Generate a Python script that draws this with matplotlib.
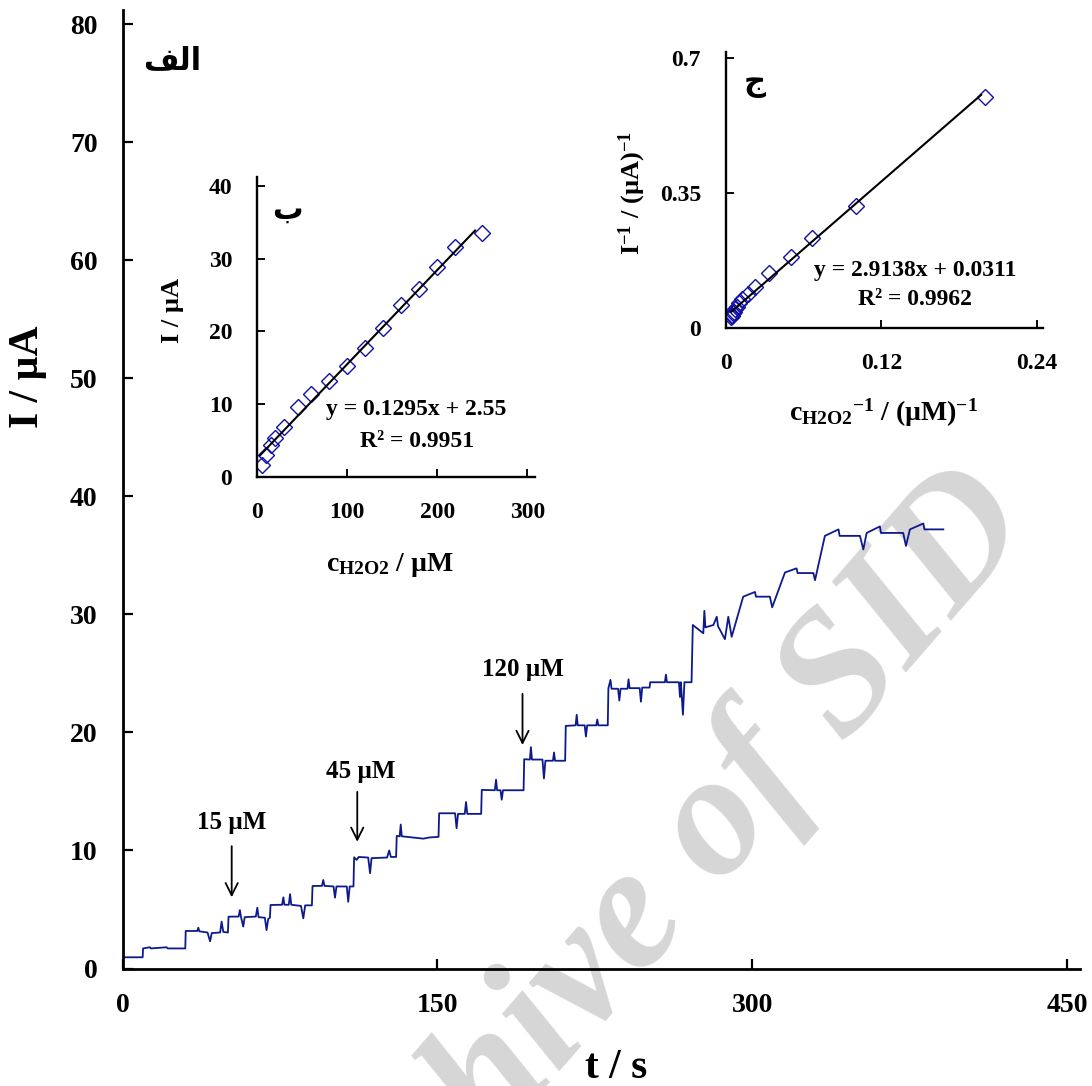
import numpy as np
import matplotlib.pyplot as plt

plt.rcParams['font.family'] = ['Liberation Serif', 'DejaVu Sans']
plt.rcParams['font.weight'] = 'bold'
plt.rcParams['mathtext.fontset'] = 'custom'
plt.rcParams['mathtext.rm'] = 'Liberation Serif:bold'
plt.rcParams['mathtext.bf'] = 'Liberation Serif:bold'
plt.rcParams['mathtext.it'] = 'Liberation Serif:bold'

# amperometric trace (main panel)
time_s = [0, 0.3, 1.0, 9.6, 9.8, 13.0, 13.5, 21.0, 21.5, 29.9, 30.1, 35.6, 36.1, 36.6,
          40.5, 41.7, 42.5, 46.5, 47.2, 48.0, 50.2, 50.5, 55.3, 55.9, 56.4, 57.5, 58.2,
          63.5, 64.2, 64.8, 67.8, 68.6, 69.4, 70.2, 70.5, 76.0, 76.6, 77.1, 79.2, 79.8,
          80.4, 85.0, 86.1, 87.0, 90.2, 90.5, 95.0, 95.6, 96.2, 100.5, 101.2, 101.9,
          106.8, 107.5, 108.2, 110.0, 110.3, 111.5, 112.5, 117.0, 117.9, 118.6, 126.0,
          127.0, 127.8, 130.3, 130.6, 132.0, 132.5, 133.0, 143.3, 146.0, 150.5, 150.8,
          158.4, 159.1, 159.8, 163.0, 163.6, 164.2, 170.8, 171.1, 177.3, 177.9, 178.4,
          180.0, 180.6, 181.2, 191.0, 191.3, 194.0, 194.5, 195.0, 200.0, 200.7, 201.4,
          205.0, 205.5, 206.0, 210.8, 211.1, 215.8, 216.3, 216.8, 220.1, 220.7, 221.3,
          225.6, 226.1, 226.6, 231.1, 231.4, 232.4, 232.9, 236.0, 236.6, 237.2, 240.5,
          241.0, 241.5, 246.3, 246.9, 247.5, 251.0, 251.3, 258.3, 258.8, 259.3, 265.0,
          265.5, 265.9, 266.9, 267.6, 271.0, 271.6, 276.6, 277.1, 277.6, 281.4, 283.0,
          283.6, 286.9, 288.5, 290.1, 295.6, 301.2, 301.7, 308.3, 309.4, 315.5, 321.0,
          321.5, 329.0, 329.8, 334.5, 341.0, 341.5, 351.2, 352.8, 354.4, 360.7, 361.2,
          371.8, 373.1, 375.0, 381.4, 381.9, 390.9]
current_uA = [5.0, 1.1, 0.95, 0.95, 1.7, 1.8, 1.7, 1.8, 1.7, 1.7, 3.18, 3.18, 3.46, 3.15,
              3.05, 2.3, 3.0, 3.05, 3.97, 3.1, 3.05, 4.39, 4.4, 4.95, 4.4, 3.55, 4.35,
              4.4, 5.15, 4.35, 4.3, 3.25, 4.2, 4.3, 5.38, 5.4, 6.03, 5.4, 5.4, 6.3,
              5.4, 5.3, 4.25, 5.35, 5.35, 6.99, 7.0, 7.5, 7.0, 6.95, 6.0, 6.95,
              6.95, 5.65, 6.95, 6.95, 9.42, 9.2, 9.45, 9.4, 8.07, 9.35, 9.4,
              10.0, 9.45, 9.45, 11.23, 11.2, 12.2, 11.2, 11.0, 11.1, 11.15, 13.15,
              13.15, 11.88, 13.1, 13.1, 14.1, 13.1, 13.1, 15.13, 15.1, 16.0, 15.1,
              15.1, 14.3, 15.1, 15.1, 17.73, 17.7, 18.75, 17.7, 17.7, 16.1, 17.6,
              17.6, 18.3, 17.6, 17.6, 20.55, 20.6, 21.5, 20.6, 20.6, 19.65, 20.6,
              20.6, 21.1, 20.6, 20.6, 23.74, 24.45, 23.7, 23.7, 22.7, 23.7, 23.7,
              24.5, 23.75, 23.75, 22.6, 23.8, 23.8, 24.25, 24.25, 24.9, 24.25, 24.25,
              23.0, 24.25, 21.5, 24.25, 24.25, 29.1, 28.4, 30.3, 28.9, 29.1, 29.8,
              29.0, 27.9, 29.8, 28.1, 31.5, 31.9, 31.5, 31.5, 30.6, 33.55, 33.9,
              33.5, 33.5, 32.9, 36.65, 37.2, 36.65, 36.65, 35.5, 36.9, 37.45, 36.9,
              36.9, 35.8, 37.2, 37.7, 37.2, 37.2]

# arrows marking additions
arrow_labels = ['15 µM', '45 µM', '120 µM']
arrow_t = [52, 111.8, 190.5]
arrow_top = [10.6, 15.2, 23.5]
arrow_tip = [5.8, 10.5, 18.7]
label_t = [52, 113.4, 190.9]
label_I = [12.4, 16.7, 25.3]

# inset b: calibration
conc_uM = [5, 10, 15, 20, 30, 45, 60, 80, 100, 120, 140, 160, 180, 200, 220, 250]
calib_I = [1.6, 3.0, 4.4, 5.3, 6.9, 9.6, 11.4, 13.2, 15.2, 17.7, 20.5, 23.6, 25.8, 28.9, 31.6, 33.5]
fit_b = (0.1295, 2.55)

# inset c: Lineweaver-Burk
inv_conc = [0.2, 0.1, 0.0667, 0.05, 0.0333, 0.0222, 0.0167, 0.0125, 0.01, 0.0083, 0.0071,
            0.0063, 0.0056, 0.005, 0.0045, 0.004]
inv_I = [0.600, 0.318, 0.233, 0.186, 0.143, 0.106, 0.088, 0.076, 0.066, 0.056, 0.049,
         0.042, 0.039, 0.035, 0.032, 0.030]
fit_c = (2.9138, 0.0311)

W, H = 1092, 1086
fig = plt.figure(figsize=(W / 100, H / 100), dpi=100)


def box(l, r, b, t):
    return [l / W, 1 - b / H, (r - l) / W, (b - t) / H]


def fx(x):
    return x / W


def fy(y):
    return 1 - y / H


def style(ax, lw, size, length):
    for s in ['top', 'right']:
        ax.spines[s].set_visible(False)
    for s in ['left', 'bottom']:
        ax.spines[s].set_linewidth(lw)
    ax.tick_params(direction='in', width=lw * 0.8, length=length, labelsize=size, pad=18)
    ax.set_facecolor('none')


# watermark (runs off the lower edge, as in the source)
fig.text(fx(681), fy(942), 'Archive of SID', fontsize=126, style='italic', weight='bold',
         family='Liberation Serif', color='#d6d6d6', rotation=49,
         ha='center', va='baseline', rotation_mode='anchor', zorder=-5)

# main panel
ax = fig.add_axes(box(122.5, 1079.6, 968.5, 10))
ax.plot(time_s, current_uA, color='#0d1a8c', lw=1.3)
ax.set_xlim(0, 455.8)
ax.set_ylim(0, 81.2)
ax.set_xticks([0, 150, 300, 450])
ax.set_yticks(np.arange(0, 81, 10))
style(ax, 2.0, 20, 7)
for lab, t, y0, y1, lt, li in zip(arrow_labels, arrow_t, arrow_top, arrow_tip, label_t, label_I):
    ax.annotate('', xy=(t, y1), xytext=(t, y0),
                arrowprops=dict(arrowstyle='->', color='black', lw=1.3, mutation_scale=22))
    ax.text(lt, li, lab, fontsize=18, ha='center', va='center')
fig.text(fx(28), fy(377), 'I / µA', fontsize=30, rotation=90, ha='center', va='center')
fig.text(fx(616), fy(1068), 't / s', fontsize=30, ha='center', va='center')
fig.text(fx(172), fy(61), '\ufed2\ufedf\ufe8d', fontsize=22, family='DejaVu Sans',
         weight='bold', ha='center', va='center')

# inset b
axb = fig.add_axes(box(257.3, 535, 476.7, 176.7))
axb.plot(conc_uM, calib_I, 'D', mfc='none', mec='#1010a8', ms=8, mew=1.0)
xb = np.array([3, 242])
axb.plot(xb, fit_b[0] * xb + fit_b[1], color='black', lw=1.5)
axb.set_xlim(0, 308.6)
axb.set_ylim(0, 41.3)
axb.set_xticks([0, 100, 200, 300])
axb.set_yticks([0, 10, 20, 30, 40])
style(axb, 1.7, 17, 6)
axb.text(177, 9.2, 'y = 0.1295x + 2.55', fontsize=17, ha='center', va='center')
axb.text(177, 4.8, 'R² = 0.9951', fontsize=17, ha='center', va='center')
fig.text(fx(173), fy(310), 'I / µA', fontsize=19, rotation=90, ha='center', va='center')
fig.text(fx(390), fy(565), r'c$_{\rm H2O2}$ / µM', fontsize=20, ha='center', va='center')
fig.text(fx(287), fy(210), '\u0628', fontsize=22, family='DejaVu Sans', weight='bold',
         ha='center', va='center')

# inset c
axc = fig.add_axes(box(726, 1043.3, 328.3, 51.7))
axc.plot(inv_conc, inv_I, 'D', mfc='none', mec='#1010a8', ms=8, mew=1.0)
xc = np.array([0.004, 0.197])
axc.plot(xc, fit_c[0] * xc + fit_c[1], color='black', lw=1.5)
axc.set_xlim(0, 0.245)
axc.set_ylim(0, 0.717)
axc.set_xticks([0, 0.12, 0.24])
axc.set_xticklabels(['0', '0.12', '0.24'])
axc.set_yticks([0, 0.35, 0.7])
axc.set_yticklabels(['0', '0.35', '0.7'])
style(axc, 1.7, 17, 6)
axc.text(0.146, 0.151, 'y = 2.9138x + 0.0311', fontsize=17, ha='center', va='center')
axc.text(0.146, 0.075, 'R² = 0.9962', fontsize=17, ha='center', va='center')
fig.text(fx(632), fy(193), r'I$^{-1}$ / (µA)$^{-1}$', fontsize=19, rotation=90,
         ha='center', va='center')
fig.text(fx(883), fy(413), r'c$_{\rm H2O2}$$^{-1}$ / (µM)$^{-1}$', fontsize=20,
         ha='center', va='center')
fig.text(fx(755), fy(83), '\u062c', fontsize=22, family='DejaVu Sans', weight='bold',
         ha='center', va='center')

fig.savefig('out.png', dpi=100)
